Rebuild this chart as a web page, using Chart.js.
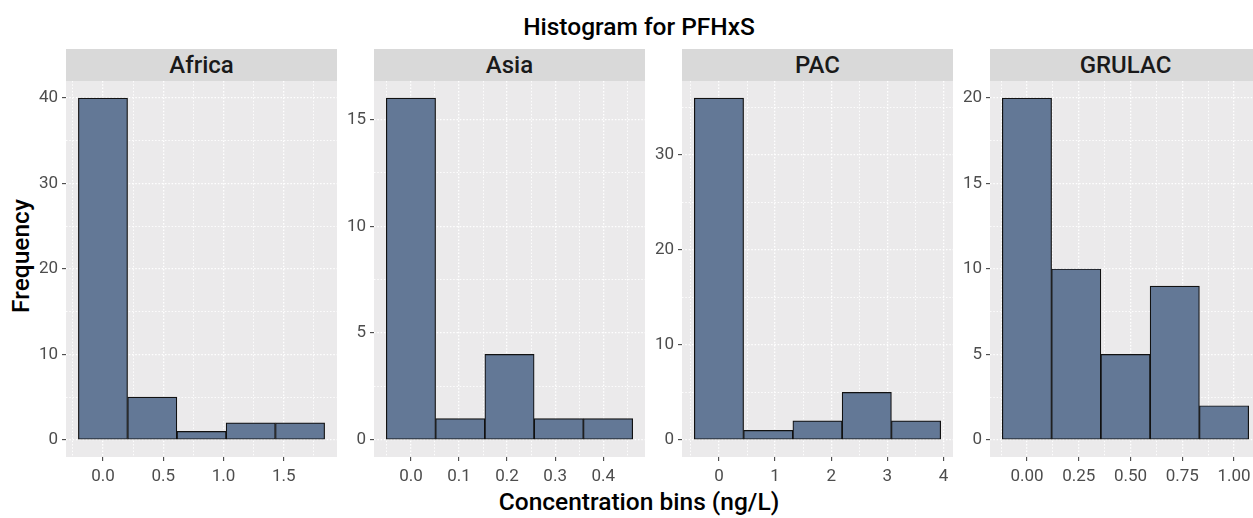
<!DOCTYPE html>
<html>
<head>
<meta charset="utf-8">
<script src="https://cdn.jsdelivr.net/npm/chart.js@4"></script>
<style>
  html, body { margin:0; padding:0; width:1253px; height:518px; overflow:hidden; background:#ffffff; font-family:Roboto, "DejaVu Sans", sans-serif; }
  .strip { position:absolute; top:49px; height:32px; width:271px; background:#D9D9D9; color:#1A1A1A; font:500 24px Roboto; display:flex; align-items:center; justify-content:center; }
  .lbl { position:absolute; color:#000; font:500 24.5px Roboto; white-space:nowrap; text-align:center; }
  .panel { position:absolute; }
</style>
</head>
<body>
<div class="lbl" id="title" style="left:0; width:1278px; top:12px; height:30px; line-height:30px;">Histogram for PFHxS</div>
<div class="lbl" id="xtitle" style="left:0; width:1278px; top:487px; height:30px; line-height:30px;">Concentration bins (ng/L)</div>
<div class="lbl" id="ytitle" style="left:-39px; width:120px; top:241px; height:30px; line-height:30px; transform:rotate(-90deg);">Frequency</div>
<script>
// ---------------- data ----------------
const regions = ['Africa', 'Asia', 'PAC', 'GRULAC'];

// histogram bin centres (ng/L) and counts per region
const africaBins   = [0, 0.409, 0.818, 1.226, 1.635];
const africaCounts = [40, 5, 1, 2, 2];
const asiaBins     = [0, 0.1025, 0.205, 0.3075, 0.41];
const asiaCounts   = [16, 1, 4, 1, 1];
const pacBins      = [0, 0.878, 1.756, 2.634, 3.512];
const pacCounts    = [36, 1, 2, 5, 2];
const grulacBins   = [0, 0.238, 0.476, 0.714, 0.952];
const grulacCounts = [20, 10, 5, 9, 2];

// tick labels
const africaXTicks = ['0.0', '0.5', '1.0', '1.5'];
const asiaXTicks   = ['0.0', '0.1', '0.2', '0.3', '0.4'];
const pacXTicks    = ['0', '1', '2', '3', '4'];
const grulacXTicks = ['0.00', '0.25', '0.50', '0.75', '1.00'];
const africaYTicks = ['0', '10', '20', '30', '40'];
const asiaYTicks   = ['0', '5', '10', '15'];
const pacYTicks    = ['0', '10', '20', '30'];
const grulacYTicks = ['0', '5', '10', '15', '20'];

// ---------------- drawing ----------------
const BAR_FILL = '#637896';
const BAR_EDGE = '#111111';
const PANEL_BG = '#EBEAEB';
const TICK_TXT = '#4D4D4D';

const panelBg = {
  id: 'panelBg',
  beforeDraw(chart) {
    const a = chart.chartArea, c = chart.ctx;
    c.save(); c.fillStyle = PANEL_BG;
    c.fillRect(a.left, a.top, a.right - a.left, a.bottom - a.top);
    c.restore();
  }
};

function withMinor(major, lo, hi) {
  const step = major[1] - major[0];
  const all = [];
  for (let k = -1; k < major.length; k++) {
    const m = major[0] + (k + 0.5) * step;
    if (m > lo && m < hi) all.push(m);
  }
  return all.concat(major).sort((a, b) => a - b);
}

function isMajor(v, major) { return major.some(m => Math.abs(m - v) < 1e-9); }
function labelFor(v, major, labels) {
  for (let k = 0; k < major.length; k++) if (Math.abs(major[k] - v) < 1e-9) return labels[k];
  return '';
}

function makePanel(i, name, bins, counts, xLabels, yLabels) {
  const PL = 66 + i * 308, PT = 81, PW = 271, PH = 376;
  const YW = 50, XH = 36;

  const strip = document.createElement('div');
  strip.className = 'strip'; strip.style.left = PL + 'px'; strip.textContent = name;
  document.body.appendChild(strip);

  const wrap = document.createElement('div');
  wrap.className = 'panel';
  wrap.style.cssText = `left:${PL - YW}px; top:${PT}px; width:${PW + YW}px; height:${PH + XH}px;`;
  const cv = document.createElement('canvas');
  wrap.appendChild(cv); document.body.appendChild(wrap);

  const w = bins[1] - bins[0];
  const lo = bins[0] - w / 2, hi = bins[bins.length - 1] + w / 2;
  const xmin = lo - 0.05 * (hi - lo), xmax = hi + 0.05 * (hi - lo);
  const cmax = Math.max(...counts);
  const ymin = -0.05 * cmax, ymax = 1.05 * cmax;

  const xMajor = xLabels.map(parseFloat);
  const yMajor = yLabels.map(parseFloat);
  const xAll = withMinor(xMajor, xmin, xmax);
  const yAll = withMinor(yMajor, ymin, ymax);

  const gridOpts = (major) => ({
    color: '#FFFFFF',
    offset: false,
    lineWidth: ctx => (ctx.tick && isMajor(ctx.tick.value, major)) ? 1.3 : 0.9,
    tickLength: 4,
    tickWidth: 1,
    tickColor: ctx => (ctx.tick && isMajor(ctx.tick.value, major)) ? '#333333' : 'rgba(0,0,0,0)',
    borderDash: [1.5, 1.8],
    tickBorderDash: []
  });
  const borderOpts = { display: false, dash: [1.5, 1.8] };
  const tickFont = { family: 'Roboto', size: 17, weight: 400 };

  new Chart(cv, {
    type: 'bar',
    data: {
      datasets: [{
        data: bins.map((b, k) => ({ x: b, y: counts[k] })),
        backgroundColor: BAR_FILL,
        borderColor: BAR_EDGE,
        borderWidth: 1.2,
        borderSkipped: false,
        barPercentage: 1,
        categoryPercentage: 1,
        xAxisID: 'x',
        yAxisID: 'y'
      }]
    },
    options: {
      responsive: true,
      maintainAspectRatio: false,
      animation: false,
      layout: { padding: 0 },
      plugins: { legend: { display: false }, tooltip: { enabled: false }, title: { display: false } },
      scales: {
        x: {
          type: 'linear', position: 'bottom', min: xmin, max: xmax, offset: false,
          afterBuildTicks: s => { s.ticks = [{ value: xmin }, { value: xmax }]; },
          afterFit: s => { s.height = 0; s.paddingLeft = 0; s.paddingRight = 0; },
          ticks: { display: false },
          grid: { display: false, offset: false, drawTicks: false },
          border: { display: false }
        },
        xg: {
          type: 'linear', position: 'bottom', min: xmin, max: xmax, offset: false,
          afterBuildTicks: s => { s.ticks = xAll.map(v => ({ value: v })); },
          afterFit: s => { s.height = XH; s.paddingLeft = 0; s.paddingRight = 0; },
          ticks: {
            autoSkip: false, maxRotation: 0, minRotation: 0, padding: 6,
            font: tickFont, color: TICK_TXT,
            callback: v => labelFor(v, xMajor, xLabels)
          },
          grid: gridOpts(xMajor),
          border: borderOpts
        },
        y: {
          type: 'linear', position: 'left', min: ymin, max: ymax,
          afterBuildTicks: s => { s.ticks = yAll.map(v => ({ value: v })); },
          afterFit: s => { s.width = YW; s.paddingTop = 0; s.paddingBottom = 0; },
          ticks: {
            autoSkip: false, padding: 4,
            font: tickFont, color: TICK_TXT,
            callback: v => labelFor(v, yMajor, yLabels)
          },
          grid: gridOpts(yMajor),
          border: borderOpts
        }
      }
    },
    plugins: [panelBg]
  });
}

makePanel(0, regions[0], africaBins, africaCounts, africaXTicks, africaYTicks);
makePanel(1, regions[1], asiaBins, asiaCounts, asiaXTicks, asiaYTicks);
makePanel(2, regions[2], pacBins, pacCounts, pacXTicks, pacYTicks);
makePanel(3, regions[3], grulacBins, grulacCounts, grulacXTicks, grulacYTicks);
</script>
</body>
</html>
